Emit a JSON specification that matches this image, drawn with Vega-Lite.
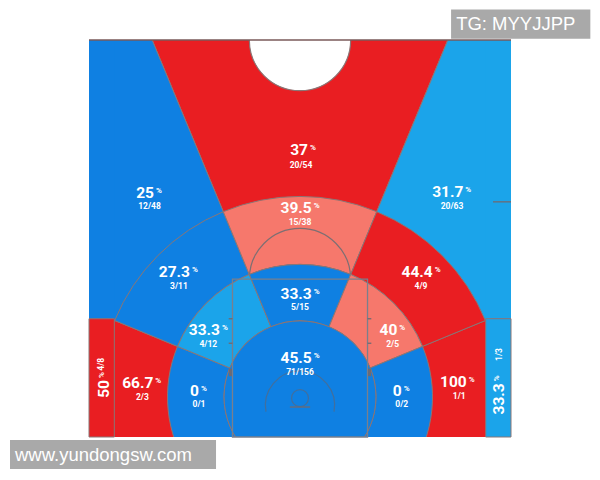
{
  "$schema": "https://vega.github.io/schema/vega-lite/v6.json",
  "width": 422,
  "height": 397,
  "autosize": "none",
  "padding": {"left": 89, "top": 40, "right": 89, "bottom": 43},
  "background": "white",
  "config": {"view": {"stroke": null}},
  "datasets": {
    "zones": [
      {"g": 1, "zone": "Top 3", "cx": 0, "cy": 4.75, "r0": 0, "r1": 80, "t0": -0.3927, "t1": 0.3927, "tier": "hot"},
      {"g": 1, "zone": "Left wing 3", "cx": 0, "cy": 4.75, "r0": 0, "r1": 80, "t0": -1.18, "t1": -0.3927, "tier": "cold"},
      {"g": 1, "zone": "Right wing 3", "cx": 0, "cy": 4.75, "r0": 0, "r1": 80, "t0": 0.3927, "t1": 1.18, "tier": "avg"},
      {"g": 1, "zone": "Left baseline mid", "cx": 0, "cy": 4.75, "r0": 0, "r1": 80, "t0": -3.1416, "t1": -1.18, "tier": "hot"},
      {"g": 1, "zone": "Right baseline mid", "cx": 0, "cy": 4.75, "r0": 0, "r1": 80, "t0": 1.18, "t1": 3.1416, "tier": "hot"},
      {"g": 2, "zone": "Left wing long mid", "cx": 0, "cy": 4.75, "r0": 15.7, "r1": 23.75, "t0": -1.18, "t1": -0.3927, "tier": "cold"},
      {"g": 2, "zone": "Top long mid", "cx": 0, "cy": 4.75, "r0": 15.7, "r1": 23.75, "t0": -0.3927, "t1": 0.3927, "tier": "warm"},
      {"g": 2, "zone": "Right wing long mid", "cx": 0, "cy": 4.75, "r0": 15.7, "r1": 23.75, "t0": 0.3927, "t1": 1.18, "tier": "hot"},
      {"g": 3, "zone": "Left short baseline", "cx": 0, "cy": 4.75, "r0": 9, "r1": 15.7, "t0": -3.1416, "t1": -1.18, "tier": "cold"},
      {"g": 3, "zone": "Left short wing", "cx": 0, "cy": 4.75, "r0": 9, "r1": 15.7, "t0": -1.18, "t1": -0.3927, "tier": "avg"},
      {"g": 3, "zone": "Top short", "cx": 0, "cy": 4.75, "r0": 9, "r1": 15.7, "t0": -0.3927, "t1": 0.3927, "tier": "cold"},
      {"g": 3, "zone": "Right short wing", "cx": 0, "cy": 4.75, "r0": 9, "r1": 15.7, "t0": 0.3927, "t1": 1.18, "tier": "warm"},
      {"g": 3, "zone": "Right short baseline", "cx": 0, "cy": 4.75, "r0": 9, "r1": 15.7, "t0": 1.18, "t1": 3.1416, "tier": "cold"},
      {"g": 3, "zone": "Paint", "cx": 0, "cy": 4.75, "r0": 0, "r1": 9, "t0": -3.1416, "t1": 3.1416, "tier": "cold"}
    ],
    "rects": [
      {"k": "strip", "x0": -25, "x1": -22, "y0": 14, "y1": 47, "tier": "cold"},
      {"k": "strip", "x0": 22, "x1": 25, "y0": 14, "y1": 47, "tier": "avg"},
      {"k": "corner", "x0": -25, "x1": -22, "y0": 0, "y1": 14, "tier": "hot"},
      {"k": "corner", "x0": 22, "x1": 25, "y0": 0, "y1": 14, "tier": "avg"}
    ],
    "courtArcs": [
      {"k": "ft", "cx": 0, "cy": 18.7, "r": 6, "t0": -1.5708, "t1": 1.5708},
      {"k": "ra", "cx": 0, "cy": 3.73, "r": 4.1, "t0": -1.75, "t1": 1.75},
      {"k": "hoop", "cx": 0, "cy": 4.6, "r": 1, "t0": -3.1416, "t1": 3.1416},
      {"k": "top", "cx": 0, "cy": 47, "r": 6, "t0": -3.1416, "t1": 3.1416}
    ],
    "paint": [{"x0": -8, "x1": 8, "y0": 0, "y1": 18.7}],
    "lines": [
      {"k": "border", "x0": -25, "x1": 25, "y0": 47, "y1": 47},
      {"k": "tick", "x0": -8.45, "x1": -8, "y0": 14.0, "y1": 14.0},
      {"k": "tick", "x0": -8.45, "x1": -8, "y0": 11.1, "y1": 11.1},
      {"k": "tick", "x0": 8, "x1": 8.45, "y0": 14.0, "y1": 14.0},
      {"k": "tick", "x0": 8, "x1": 8.45, "y0": 11.1, "y1": 11.1},
      {"k": "tick", "x0": 22.87, "x1": 25, "y0": 27.84, "y1": 27.84},
      {"k": "block", "x0": -8.25, "x1": -8.25, "y0": 7.2, "y1": 8.1},
      {"k": "block", "x0": 8.25, "x1": 8.25, "y0": 7.2, "y1": 8.1},
      {"k": "tick", "x0": -1.2, "x1": 1.2, "y0": 3.55, "y1": 3.55}
    ],
    "labels": [
      {"pct": "37", "cnt": "20/54", "rot": false, "px": 0.95, "py": 34.0, "cx": 0.12, "cy": 32.2},
      {"pct": "25", "cnt": "12/48", "rot": false, "px": -17.3, "py": 28.87, "cx": -17.83, "cy": 27.37},
      {"pct": "31.7", "cnt": "20/63", "rot": false, "px": 19.35, "py": 28.95, "cx": 18.01, "cy": 27.37},
      {"pct": "39.5", "cnt": "15/38", "rot": false, "px": 1.39, "py": 27.13, "cx": 0, "cy": 25.44},
      {"pct": "27.3", "cnt": "3/11", "rot": false, "px": -13.03, "py": 19.51, "cx": -14.34, "cy": 17.93},
      {"pct": "44.4", "cnt": "4/9", "rot": false, "px": 15.72, "py": 19.51, "cx": 14.34, "cy": 17.93},
      {"pct": "33.3", "cnt": "5/15", "rot": false, "px": 1.39, "py": 16.91, "cx": 0, "cy": 15.37},
      {"pct": "33.3", "cnt": "4/12", "rot": false, "px": -9.48, "py": 12.68, "cx": -10.86, "cy": 10.98},
      {"pct": "40", "cnt": "2/5", "rot": false, "px": 11.53, "py": 12.68, "cx": 10.98, "cy": 10.98},
      {"pct": "66.7", "cnt": "2/3", "rot": false, "px": -17.38, "py": 6.45, "cx": -18.68, "cy": 4.72},
      {"pct": "0", "cnt": "0/1", "rot": false, "px": -11.97, "py": 5.45, "cx": -11.97, "cy": 3.85},
      {"pct": "45.5", "cnt": "71/156", "rot": false, "px": 1.39, "py": 9.32, "cx": 0, "cy": 7.75},
      {"pct": "0", "cnt": "0/2", "rot": false, "px": 12.05, "py": 5.45, "cx": 12.05, "cy": 3.85},
      {"pct": "100", "cnt": "1/1", "rot": false, "px": 19.75, "py": 6.55, "cx": 18.87, "cy": 4.8},
      {"pct": "50", "cnt": "4/8", "rot": true, "px": -23.19, "py": 6.75, "cx": -23.61, "cy": 8.61},
      {"pct": "33.3", "cnt": "1/3", "rot": true, "px": 23.58, "py": 6.36, "cx": 23.61, "cy": 9.77}
    ],
    "wm": [
      {"label": "TG: MYYJJPP", "x0": 17.9, "x1": 34.4, "y0": 47.16, "y1": 50.6, "tx": 18.5, "ty": 48.85},
      {"label": "www.yundongsw.com", "x0": -34.36, "x1": -9.95, "y0": -3.79, "y1": -0.36, "tx": -33.77, "ty": -2.1}
    ]
  },
  "layer": [
    {
      "data": {"name": "zones"},
      "transform": [{"filter": "datum.g == 1"}],
      "mark": {"type": "arc", "clip": true, "stroke": "#8a7676", "strokeWidth": 1},
      "encoding": {
        "x": {"field": "cx", "type": "quantitative", "scale": {"domain": [-25, 25], "nice": false}, "axis": null},
        "y": {"field": "cy", "type": "quantitative", "scale": {"domain": [0, 47], "nice": false}, "axis": null},
        "theta": {"field": "t0", "type": "quantitative", "scale": null, "stack": null},
        "theta2": {"field": "t1"},
        "radius": {"field": "r1", "type": "quantitative", "scale": {"type": "linear", "domain": [0, 100], "range": [0, 844], "nice": false}},
        "radius2": {"field": "r0"},
        "color": {"field": "tier", "type": "nominal", "scale": {"domain": ["hot", "warm", "avg", "cold"], "range": ["#e91e22", "#f6786c", "#1ba4ea", "#0f80e2"]}, "legend": null}
      }
    },
    {
      "data": {"name": "rects"},
      "transform": [{"filter": "datum.k == 'strip'"}],
      "mark": {"type": "rect"},
      "encoding": {
        "x": {"field": "x0", "type": "quantitative", "scale": {"domain": [-25, 25], "nice": false}, "axis": null},
        "x2": {"field": "x1"},
        "y": {"field": "y0", "type": "quantitative", "scale": {"domain": [0, 47], "nice": false}, "axis": null},
        "y2": {"field": "y1"},
        "color": {"field": "tier", "type": "nominal", "scale": {"domain": ["hot", "warm", "avg", "cold"], "range": ["#e91e22", "#f6786c", "#1ba4ea", "#0f80e2"]}, "legend": null}
      }
    },
    {
      "data": {"name": "rects"},
      "transform": [{"filter": "datum.k == 'corner'"}],
      "mark": {"type": "rect", "stroke": "#8a7676", "strokeWidth": 1},
      "encoding": {
        "x": {"field": "x0", "type": "quantitative", "scale": {"domain": [-25, 25], "nice": false}, "axis": null},
        "x2": {"field": "x1"},
        "y": {"field": "y0", "type": "quantitative", "scale": {"domain": [0, 47], "nice": false}, "axis": null},
        "y2": {"field": "y1"},
        "color": {"field": "tier", "type": "nominal", "scale": {"domain": ["hot", "warm", "avg", "cold"], "range": ["#e91e22", "#f6786c", "#1ba4ea", "#0f80e2"]}, "legend": null}
      }
    },
    {
      "data": {"name": "zones"},
      "transform": [{"filter": "datum.g == 2"}],
      "mark": {"type": "arc", "clip": true, "stroke": "#8a7676", "strokeWidth": 1},
      "encoding": {
        "x": {"field": "cx", "type": "quantitative", "scale": {"domain": [-25, 25], "nice": false}, "axis": null},
        "y": {"field": "cy", "type": "quantitative", "scale": {"domain": [0, 47], "nice": false}, "axis": null},
        "theta": {"field": "t0", "type": "quantitative", "scale": null, "stack": null},
        "theta2": {"field": "t1"},
        "radius": {"field": "r1", "type": "quantitative", "scale": {"type": "linear", "domain": [0, 100], "range": [0, 844], "nice": false}},
        "radius2": {"field": "r0"},
        "color": {"field": "tier", "type": "nominal", "scale": {"domain": ["hot", "warm", "avg", "cold"], "range": ["#e91e22", "#f6786c", "#1ba4ea", "#0f80e2"]}, "legend": null}
      }
    },
    {
      "data": {"name": "courtArcs"},
      "transform": [{"filter": "datum.k == 'ft'"}],
      "mark": {"type": "arc", "clip": true, "filled": false, "stroke": "#7d6f73", "strokeWidth": 1.2},
      "encoding": {
        "x": {"field": "cx", "type": "quantitative", "scale": {"domain": [-25, 25], "nice": false}, "axis": null},
        "y": {"field": "cy", "type": "quantitative", "scale": {"domain": [0, 47], "nice": false}, "axis": null},
        "theta": {"field": "t0", "type": "quantitative", "scale": null, "stack": null},
        "theta2": {"field": "t1"},
        "radius": {"field": "r", "type": "quantitative", "scale": {"type": "linear", "domain": [0, 100], "range": [0, 844], "nice": false}},
        "radius2": {"field": "r"}
      }
    },
    {
      "data": {"name": "zones"},
      "transform": [{"filter": "datum.g == 3"}],
      "mark": {"type": "arc", "clip": true, "stroke": "#8a7676", "strokeWidth": 1},
      "encoding": {
        "x": {"field": "cx", "type": "quantitative", "scale": {"domain": [-25, 25], "nice": false}, "axis": null},
        "y": {"field": "cy", "type": "quantitative", "scale": {"domain": [0, 47], "nice": false}, "axis": null},
        "theta": {"field": "t0", "type": "quantitative", "scale": null, "stack": null},
        "theta2": {"field": "t1"},
        "radius": {"field": "r1", "type": "quantitative", "scale": {"type": "linear", "domain": [0, 100], "range": [0, 844], "nice": false}},
        "radius2": {"field": "r0"},
        "color": {"field": "tier", "type": "nominal", "scale": {"domain": ["hot", "warm", "avg", "cold"], "range": ["#e91e22", "#f6786c", "#1ba4ea", "#0f80e2"]}, "legend": null}
      }
    },
    {
      "data": {"name": "courtArcs"},
      "transform": [{"filter": "datum.k == 'ra' || datum.k == 'hoop'"}],
      "mark": {"type": "arc", "clip": true, "filled": false, "stroke": "#4f6a8c", "strokeWidth": 1.2, "strokeOpacity": 0.8},
      "encoding": {
        "x": {"field": "cx", "type": "quantitative", "scale": {"domain": [-25, 25], "nice": false}, "axis": null},
        "y": {"field": "cy", "type": "quantitative", "scale": {"domain": [0, 47], "nice": false}, "axis": null},
        "theta": {"field": "t0", "type": "quantitative", "scale": null, "stack": null},
        "theta2": {"field": "t1"},
        "radius": {"field": "r", "type": "quantitative", "scale": {"type": "linear", "domain": [0, 100], "range": [0, 844], "nice": false}},
        "radius2": {"field": "r"}
      }
    },
    {
      "data": {"name": "courtArcs"},
      "transform": [{"filter": "datum.k == 'top'"}],
      "mark": {"type": "arc", "clip": true, "fill": "white", "stroke": "#8a7676", "strokeWidth": 1.2},
      "encoding": {
        "x": {"field": "cx", "type": "quantitative", "scale": {"domain": [-25, 25], "nice": false}, "axis": null},
        "y": {"field": "cy", "type": "quantitative", "scale": {"domain": [0, 47], "nice": false}, "axis": null},
        "theta": {"field": "t0", "type": "quantitative", "scale": null, "stack": null},
        "theta2": {"field": "t1"},
        "radius": {"field": "r", "type": "quantitative", "scale": {"type": "linear", "domain": [0, 100], "range": [0, 844], "nice": false}}
      }
    },
    {
      "data": {"name": "paint"},
      "mark": {"type": "rect", "fill": null, "fillOpacity": 0, "stroke": "#7a7f8c", "strokeWidth": 1.3},
      "encoding": {
        "x": {"field": "x0", "type": "quantitative", "scale": {"domain": [-25, 25], "nice": false}, "axis": null},
        "x2": {"field": "x1"},
        "y": {"field": "y0", "type": "quantitative", "scale": {"domain": [0, 47], "nice": false}, "axis": null},
        "y2": {"field": "y1"}
      }
    },
    {
      "data": {"name": "lines"},
      "transform": [{"filter": "datum.k == 'tick'"}],
      "mark": {"type": "rule", "stroke": "#6f6a72", "strokeWidth": 1.3},
      "encoding": {
        "x": {"field": "x0", "type": "quantitative", "scale": {"domain": [-25, 25], "nice": false}, "axis": null},
        "x2": {"field": "x1"},
        "y": {"field": "y0", "type": "quantitative", "scale": {"domain": [0, 47], "nice": false}, "axis": null},
        "y2": {"field": "y1"}
      }
    },
    {
      "data": {"name": "lines"},
      "transform": [{"filter": "datum.k == 'block'"}],
      "mark": {"type": "rule", "stroke": "#6f6a72", "strokeWidth": 3},
      "encoding": {
        "x": {"field": "x0", "type": "quantitative", "scale": {"domain": [-25, 25], "nice": false}, "axis": null},
        "x2": {"field": "x1"},
        "y": {"field": "y0", "type": "quantitative", "scale": {"domain": [0, 47], "nice": false}, "axis": null},
        "y2": {"field": "y1"}
      }
    },
    {
      "data": {"name": "lines"},
      "transform": [{"filter": "datum.k == 'border'"}],
      "mark": {"type": "rule", "stroke": "#7a5a5a", "strokeWidth": 1.5},
      "encoding": {
        "x": {"field": "x0", "type": "quantitative", "scale": {"domain": [-25, 25], "nice": false}, "axis": null},
        "x2": {"field": "x1"},
        "y": {"field": "y0", "type": "quantitative", "scale": {"domain": [0, 47], "nice": false}, "axis": null},
        "y2": {"field": "y1"}
      }
    },
    {
      "data": {"name": "labels"},
      "transform": [{"filter": "!datum.rot"}],
      "mark": {"type": "text", "align": "right", "baseline": "middle", "font": "Roboto", "fontWeight": "bold", "fontSize": 15.5, "color": "white"},
      "encoding": {
        "x": {"field": "px", "type": "quantitative", "scale": {"domain": [-25, 25], "nice": false}, "axis": null},
        "y": {"field": "py", "type": "quantitative", "scale": {"domain": [0, 47], "nice": false}, "axis": null},
        "text": {"field": "pct"}
      }
    },
    {
      "data": {"name": "labels"},
      "transform": [{"filter": "!datum.rot"}],
      "mark": {"type": "text", "align": "left", "baseline": "middle", "font": "Roboto", "fontWeight": "bold", "fontSize": 8, "color": "white", "dx": 2, "dy": -2},
      "encoding": {
        "x": {"field": "px", "type": "quantitative", "scale": {"domain": [-25, 25], "nice": false}, "axis": null},
        "y": {"field": "py", "type": "quantitative", "scale": {"domain": [0, 47], "nice": false}, "axis": null},
        "text": {"value": "%"}
      }
    },
    {
      "data": {"name": "labels"},
      "transform": [{"filter": "!datum.rot"}],
      "mark": {"type": "text", "align": "center", "baseline": "middle", "font": "Roboto", "fontWeight": "bold", "fontSize": 8.5, "color": "white"},
      "encoding": {
        "x": {"field": "cx", "type": "quantitative", "scale": {"domain": [-25, 25], "nice": false}, "axis": null},
        "y": {"field": "cy", "type": "quantitative", "scale": {"domain": [0, 47], "nice": false}, "axis": null},
        "text": {"field": "cnt"}
      }
    },
    {
      "data": {"name": "labels"},
      "transform": [{"filter": "datum.rot"}],
      "mark": {"type": "text", "angle": 270, "align": "right", "baseline": "middle", "font": "Roboto", "fontWeight": "bold", "fontSize": 15.5, "color": "white"},
      "encoding": {
        "x": {"field": "px", "type": "quantitative", "scale": {"domain": [-25, 25], "nice": false}, "axis": null},
        "y": {"field": "py", "type": "quantitative", "scale": {"domain": [0, 47], "nice": false}, "axis": null},
        "text": {"field": "pct"}
      }
    },
    {
      "data": {"name": "labels"},
      "transform": [{"filter": "datum.rot"}],
      "mark": {"type": "text", "angle": 270, "align": "left", "baseline": "middle", "font": "Roboto", "fontWeight": "bold", "fontSize": 8, "color": "white", "dx": 2, "dy": -2},
      "encoding": {
        "x": {"field": "px", "type": "quantitative", "scale": {"domain": [-25, 25], "nice": false}, "axis": null},
        "y": {"field": "py", "type": "quantitative", "scale": {"domain": [0, 47], "nice": false}, "axis": null},
        "text": {"value": "%"}
      }
    },
    {
      "data": {"name": "labels"},
      "transform": [{"filter": "datum.rot"}],
      "mark": {"type": "text", "angle": 270, "align": "center", "baseline": "middle", "font": "Roboto", "fontWeight": "bold", "fontSize": 8.5, "color": "white"},
      "encoding": {
        "x": {"field": "cx", "type": "quantitative", "scale": {"domain": [-25, 25], "nice": false}, "axis": null},
        "y": {"field": "cy", "type": "quantitative", "scale": {"domain": [0, 47], "nice": false}, "axis": null},
        "text": {"field": "cnt"}
      }
    },
    {
      "data": {"name": "wm"},
      "mark": {"type": "rect", "fill": "#a9a9a9"},
      "encoding": {
        "x": {"field": "x0", "type": "quantitative", "scale": {"domain": [-25, 25], "nice": false}, "axis": null},
        "x2": {"field": "x1"},
        "y": {"field": "y0", "type": "quantitative", "scale": {"domain": [0, 47], "nice": false}, "axis": null},
        "y2": {"field": "y1"}
      }
    },
    {
      "data": {"name": "wm"},
      "mark": {"type": "text", "align": "left", "baseline": "middle", "font": "Liberation Sans", "fontSize": 18.5, "color": "white"},
      "encoding": {
        "x": {"field": "tx", "type": "quantitative", "scale": {"domain": [-25, 25], "nice": false}, "axis": null},
        "y": {"field": "ty", "type": "quantitative", "scale": {"domain": [0, 47], "nice": false}, "axis": null},
        "text": {"field": "label"}
      }
    }
  ]
}
